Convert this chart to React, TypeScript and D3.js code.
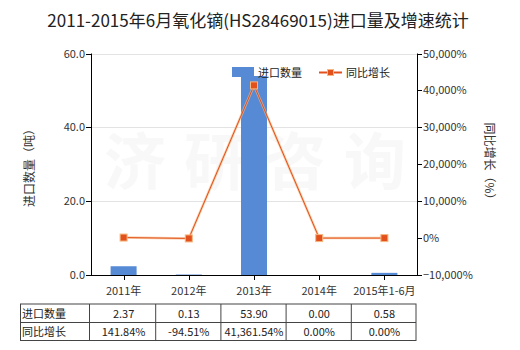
import React from "react";
import * as d3 from "d3";

const categories = ["2011年", "2012年", "2013年", "2014年", "2015年1-6月"];
const importQty = [2.37, 0.13, 53.9, 0.0, 0.58];
const growth = [141.84, -94.51, 41361.54, 0.0, 0.0];
const qtyLabels = ["2.37", "0.13", "53.90", "0.00", "0.58"];
const growthLabels = ["141.84%", "-94.51%", "41,361.54%", "0.00%", "0.00%"];
const leftTicks = [0, 20, 40, 60];
const rightTicks = [-10000, 0, 10000, 20000, 30000, 40000, 50000];
const watermark = ["济", "研", "咨", "询"];

const FONT = "'Noto Sans CJK SC', 'Noto Sans', sans-serif";

export default function App() {
  const W = 520, H = 350;
  const left = 91, right = 417, top = 53.5, bottom = 275;
  const x = d3.scaleBand<string>().domain(categories).range([left, right]).padding(0);
  const yL = d3.scaleLinear().domain([0, 60]).range([bottom, top]);
  const yR = d3.scaleLinear().domain([-10000, 50000]).range([bottom, top]);
  const barW = 26;
  const cx = (c: string) => (x(c) as number) + x.bandwidth() / 2;
  const line = d3.line<number>().x((_, i) => cx(categories[i])).y((d) => yR(d));
  const lineColor = "#e2501c";
  const barColor = "#568ad5";
  const fmtR = (v: number) => (v === 0 ? "0%" : d3.format(",")(v) + "%");

  // table
  const tLeft = 20.5, tRight = 416, rowTop = 304, rowMid = 322.5, rowBot = 340.5;
  const colEdges = [tLeft, 89.5, ...categories.map((c) => (x(c) as number) + x.bandwidth() - 0.5)];
  colEdges[colEdges.length - 1] = tRight;

  return (
    <svg width={W} height={H} style={{ display: "block", position: "absolute", left: 0, top: 0 }} fontFamily={FONT}>
      <rect width={W} height={H} fill="#fff" />
      <text x={258} y={27} textAnchor="middle" fontSize={17} fill="#222">
        2011-2015年6月氧化镝(HS28469015)进口量及增速统计
      </text>
      {/* watermark */}
      {watermark.map((ch, i) => (
        <text key={i} x={135 + i * 80} y={185} textAnchor="middle" fontSize={62} fill="#000" opacity={0.025} fontWeight="bold">
          {ch}
        </text>
      ))}
      {/* gridlines */}
      {leftTicks.filter((t) => t > 0).map((t) => (
        <line key={t} x1={left} x2={right} y1={Math.round(yL(t)) + 0.5} y2={Math.round(yL(t)) + 0.5} stroke="#e3e3e3" />
      ))}
      {/* bars */}
      {importQty.map((v, i) => (
        <rect key={i} x={cx(categories[i]) - barW / 2} y={yL(v)} width={barW} height={bottom - yL(v)} fill={barColor} />
      ))}
      {/* line */}
      <path d={line(growth) || ""} fill="none" stroke="#f6b780" strokeWidth={2.5} opacity={0.7} />
      <path d={line(growth) || ""} fill="none" stroke={lineColor} strokeWidth={1} />
      {growth.map((v, i) => (
        <rect key={i} x={cx(categories[i]) - 3.5} y={yR(v) - 3.5} width={7} height={7} fill={lineColor} stroke="#f6b780" strokeWidth={1} />
      ))}
      {/* left axis */}
      <line x1={left + 0.5} x2={left + 0.5} y1={top} y2={bottom} stroke="#000" />
      {leftTicks.map((t) => (
        <g key={t}>
          <line x1={left - 5} x2={left} y1={Math.round(yL(t)) + 0.5} y2={Math.round(yL(t)) + 0.5} stroke="#000" />
          <text x={left - 6} y={yL(t) + 4} textAnchor="end" fontSize={11} fill="#333">
            {t.toFixed(1)}
          </text>
        </g>
      ))}
      {/* right axis */}
      <line x1={right + 0.5} x2={right + 0.5} y1={top} y2={bottom} stroke="#000" />
      {rightTicks.map((t) => (
        <g key={t}>
          <line x1={right} x2={right + 5} y1={Math.round(yR(t)) + 0.5} y2={Math.round(yR(t)) + 0.5} stroke="#000" />
          <text x={right + 6} y={yR(t) + 4} textAnchor="start" fontSize={11} fill="#333">
            {fmtR(t)}
          </text>
        </g>
      ))}
      {/* bottom axis */}
      <line x1={left} x2={right + 1} y1={bottom + 0.5} y2={bottom + 0.5} stroke="#000" />
      {categories.map((c) => (
        <g key={c}>
          <line x1={Math.round(cx(c)) + 0.5} x2={Math.round(cx(c)) + 0.5} y1={bottom} y2={bottom + 5} stroke="#000" />
          <text x={cx(c)} y={bottom + 20} textAnchor="middle" fontSize={11} fill="#333">
            {c}
          </text>
        </g>
      ))}
      {/* axis titles */}
      <text transform={`translate(34,165) rotate(-90)`} textAnchor="middle" fontSize={12} fill="#333">
        进口数量（吨）
      </text>
      <text transform={`translate(485,164) rotate(90)`} textAnchor="middle" fontSize={12} fill="#333">
        同比增长（%）
      </text>
      {/* legend */}
      <rect x={232} y={67} width={22} height={10} fill={barColor} />
      <text x={258} y={77} fontSize={11} fill="#222">进口数量</text>
      <line x1={319} x2={342} y1={72.5} y2={72.5} stroke={lineColor} strokeWidth={2} />
      <rect x={327.5} y={69.5} width={6} height={6} fill={lineColor} stroke="#f6b780" />
      <text x={346} y={77} fontSize={11} fill="#222">同比增长</text>
      {/* table */}
      <g stroke="#444" fill="none">
        <rect x={tLeft} y={rowTop} width={tRight - tLeft} height={rowBot - rowTop} />
        <line x1={tLeft} x2={tRight} y1={rowMid} y2={rowMid} />
        {colEdges.slice(1, -1).map((e, i) => (
          <line key={i} x1={e} x2={e} y1={rowTop} y2={rowBot} />
        ))}
      </g>
      <text x={22} y={318} fontSize={11} fill="#222">进口数量</text>
      <text x={22} y={336} fontSize={11} fill="#222">同比增长</text>
      {categories.map((c, i) => (
        <g key={c}>
          <text x={cx(c)} y={318} textAnchor="middle" fontSize={11} fill="#222">{qtyLabels[i]}</text>
          <text x={cx(c)} y={336} textAnchor="middle" fontSize={11} fill="#222">{growthLabels[i]}</text>
        </g>
      ))}
    </svg>
  );
}
